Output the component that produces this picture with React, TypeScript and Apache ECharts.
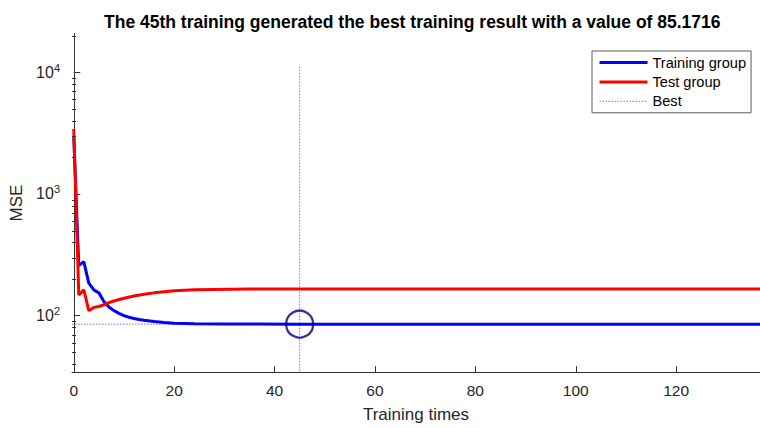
import React, { useEffect, useRef } from "react";
import * as echarts from "echarts";

// Training curve (epoch, MSE)
const trainingPoints: [number, number][] = [
  [0, 3000], [1, 258], [2, 278], [3, 185], [4, 163], [5, 154], [6, 131],
  [7, 118], [8, 110], [9, 104.5], [10, 100], [11, 97], [12, 94.8], [13, 93],
  [14, 91.8], [16, 89.6], [18, 88], [20, 86.8], [24, 85.9], [30, 85.4],
  [45, 85.1716], [80, 85.2], [137, 85.2],
];

// Test curve (epoch, MSE)
const testPoints: [number, number][] = [
  [0, 3420], [1, 148], [2, 163], [3, 110], [4, 117], [5, 119], [6, 123],
  [7, 128], [8, 132], [10, 139], [12, 145], [14, 150], [16, 154], [18, 157],
  [20, 160], [24, 163], [28, 164.5], [35, 165.5], [60, 165.8], [137, 165.8],
];

const bestEpoch = 45;
const bestMse = 85.1716;
const bestLineTop = 11100;

const xTickValues = [0, 20, 40, 60, 80, 100, 120];
const yTickValues = [100, 1000, 10000];
const yMinorValues = [
  40, 50, 60, 70, 80, 90,
  200, 300, 400, 500, 600, 700, 800, 900,
  2000, 3000, 4000, 5000, 6000, 7000, 8000, 9000,
  20000,
];

const Y_MIN = 34;
const Y_MAX = 20840;
const X_MIN = -0.35;
const X_MAX = 136.7;

const FONT = "'Liberation Sans', Arial, Helvetica, sans-serif";
const TEXT = "#262626";
const AXIS = "#333333";

export default function App() {
  const ref = useRef<HTMLDivElement>(null);

  useEffect(() => {
    if (!ref.current) return;
    const chart = echarts.init(ref.current, null, { renderer: "svg" });

    const option: any = {
      animation: false,
      backgroundColor: "#ffffff",
      textStyle: { fontFamily: FONT },
      title: {
        text: "The 45th training generated the best training result with a value of 85.1716",
        left: 99,
        top: 8,
        textStyle: { fontFamily: FONT, fontSize: 17.5, fontWeight: "bold", color: "#000000" },
      },
      legend: {
        orient: "vertical",
        left: 592,
        top: 51,
        data: ["Training group", "Test group", "Best"],
        itemWidth: 48,
        itemHeight: 10,
        itemGap: 0.4,
        padding: [2, 5, 2, 6],
        borderColor: "#5a5a5a",
        borderWidth: 1,
        borderRadius: 0,
        backgroundColor: "#ffffff",
        // keep only the line sample in each legend key
        itemStyle: { opacity: 0 },
        lineStyle: { width: "inherit" },
        textStyle: { fontFamily: FONT, fontSize: 14.6, color: "#000000", lineHeight: 19 },
      },
      grid: { left: 72, right: 0, top: 33.5, bottom: 55.3, containLabel: false },
      xAxis: {
        type: "value",
        min: X_MIN,
        max: X_MAX,
        name: "Training times",
        nameLocation: "middle",
        nameGap: 33,
        nameTextStyle: { fontFamily: FONT, fontSize: 17, color: TEXT },
        axisLine: { show: true, lineStyle: { color: AXIS, width: 1 } },
        axisTick: { show: true, inside: true, length: 6.5, customValues: xTickValues, lineStyle: { color: AXIS } },
        axisLabel: { customValues: xTickValues, fontFamily: FONT, fontSize: 15.5, color: TEXT, margin: 10 },
        splitLine: { show: false },
      },
      yAxis: {
        type: "log",
        logBase: 10,
        min: Y_MIN,
        max: Y_MAX,
        name: "MSE",
        nameLocation: "middle",
        nameGap: 40,
        nameTextStyle: { fontFamily: FONT, fontSize: 17, color: TEXT },
        axisLine: { show: true, lineStyle: { color: AXIS, width: 1 } },
        axisTick: { show: true, inside: true, length: 6.5, customValues: yTickValues, lineStyle: { color: AXIS } },
        axisLabel: {
          customValues: yTickValues,
          margin: 12,
          color: TEXT,
          fontFamily: FONT,
          fontSize: 16,
          lineHeight: 20,
          formatter: (v: number) => `10{s|${Math.round(Math.log10(v))}}`,
          rich: {
            s: { fontFamily: FONT, fontSize: 11, color: TEXT, lineHeight: 11, verticalAlign: "top" },
          },
        },
        splitLine: { show: false },
      },
      series: [
        // minor ticks of the log axis, placed through the axis scale
        {
          name: "minor-ticks",
          type: "custom",
          data: yMinorValues.map((v) => [X_MIN, v]),
          silent: true,
          clip: false,
          z: 6,
          renderItem: (_params: any, api: any) => {
            const p = api.coord([api.value(0), api.value(1)]);
            const y = Math.round(p[1]) + 0.5;
            return {
              type: "line",
              shape: { x1: p[0], y1: y, x2: p[0] + 4, y2: y },
              style: { stroke: AXIS, lineWidth: 1 },
            };
          },
        },
        {
          name: "Training group",
          type: "line",
          data: trainingPoints,
          symbol: "none",
          lineStyle: { color: "#0000ff", width: 3 },
          itemStyle: { color: "#0000ff" },
          z: 3,
        },
        {
          name: "Test group",
          type: "line",
          data: testPoints,
          symbol: "none",
          lineStyle: { color: "#ff0000", width: 3 },
          itemStyle: { color: "#ff0000" },
          z: 4,
        },
        {
          name: "Best",
          type: "line",
          data: [[bestEpoch, bestLineTop], [bestEpoch, Y_MIN]],
          symbol: "none",
          lineStyle: { color: "#7474ff", width: 1, type: [1.5, 1.5] },
          itemStyle: { color: "#7474ff" },
          z: 2,
        },
        {
          name: "best-level",
          type: "line",
          data: [[X_MIN, bestMse], [bestEpoch, bestMse]],
          symbol: "none",
          lineStyle: { color: "#7474ff", width: 1, type: [1.5, 1.5] },
          z: 2,
        },
        {
          name: "best-marker",
          type: "scatter",
          data: [[bestEpoch, bestMse]],
          symbol: "circle",
          symbolSize: 27,
          itemStyle: { color: "rgba(0,0,0,0)", borderColor: "#00007f", borderWidth: 2.3 },
          z: 5,
        },
      ],
    };

    chart.setOption(option);
    return () => chart.dispose();
  }, []);

  return (
    <div
      ref={ref}
      style={{ position: "fixed", left: 0, top: 0, width: 760, height: 428, background: "#fff" }}
    />
  );
}
